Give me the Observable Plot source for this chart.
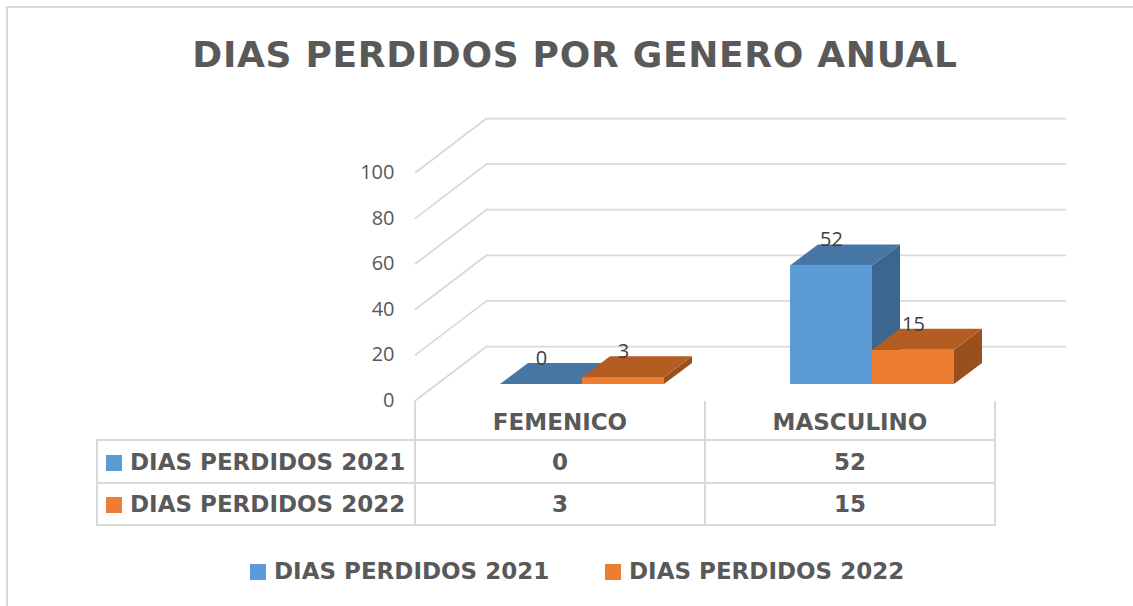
<!DOCTYPE html>
<html>
<head>
<meta charset="utf-8">
<script src="https://cdn.jsdelivr.net/npm/d3@7"></script>
<script src="https://cdn.jsdelivr.net/npm/@observablehq/plot@0.6"></script>
<style>
html, body { margin: 0; padding: 0; background: #fff; width: 1133px; height: 606px; overflow: hidden; position: relative; }
#frame { position: absolute; left: 6px; top: 6px; width: 1200px; height: 700px; border-top: 2px solid #d9d9d9; border-left: 2px solid #d9d9d9; box-sizing: border-box; }
#title { position: absolute; left: 17px; width: 1116px; top: 34px; height: 40px; line-height: 40px; text-align: center;
  font: bold 36px "DejaVu Sans", sans-serif; letter-spacing: 0.7px; color: #595959; white-space: nowrap; }
#chart { position: absolute; left: 0; top: 100px; }
#table { position: absolute; left: 96px; top: 401px; border-collapse: collapse; table-layout: fixed;
  font: bold 23px "DejaVu Sans", sans-serif; color: #595959; }
#table td { border: 2px solid #d9d9d9; padding: 0; text-align: center; white-space: nowrap; }
#table tr.head td { border-top: none; height: 39px; padding-top: 3px; box-sizing: border-box; }
#table tr.head td.blank { border-left: none; }
#table tr.r1 td { height: 41px; }
#table tr.r2 td { height: 40px; }
#table td.lab { text-align: left; padding-left: 8px; }
.sw { display: inline-block; width: 16px; height: 16px; margin-right: 8px; vertical-align: -1px; }
#legend { position: absolute; top: 558px; left: 0; width: 1133px; height: 26px; font: bold 23px "DejaVu Sans", sans-serif; color: #595959; }
#legend .item { position: absolute; top: 0; height: 26px; line-height: 26px; white-space: nowrap; }
</style>
</head>
<body>
<div id="frame"></div>
<div id="title">DIAS PERDIDOS POR GENERO ANUAL</div>
<div id="chart"></div>
<table id="table"></table>
<div id="legend"></div>
<script>
// ---- data ----
const categories = ["FEMENICO", "MASCULINO"];
const seriesNames = ["DIAS PERDIDOS 2021", "DIAS PERDIDOS 2022"];
const values2021 = [0, 52];
const values2022 = [3, 15];
const yTicks = [0, 20, 40, 60, 80, 100];

// ---- style ----
const frontColors = ["#5b9bd5", "#ed7d31"];
const topColors = ["#4676a3", "#b45d22"];
const sideColors = ["#3a6690", "#9a501d"];
const gridColor = "#d9d9d9";
const barInsets = [{l: 64, r: 144}, {l: 146, r: 62}];
const barWidth = 82, depthX = 28, depthY = 21, shiftX = 21, shiftY = -16;
const wallX = 71, wallY = -54;
const bandHalf = 145;
const labelLift = -26;

const seriesValues = [values2021, values2022];
const rows = seriesValues.map(vals => categories.map((c, i) => ({category: c, value: vals[i]})));

const lineShape = {draw(ctx, l) { ctx.moveTo(0, 0); ctx.lineTo(0, -l); }};

const marks = [
  Plot.ruleY(yTicks, {y: d => d, dx: wallX, dy: wallY, stroke: gridColor, strokeWidth: 1.75}),
  Plot.vector(yTicks, {y: d => d, frameAnchor: "left", length: Math.hypot(wallX, wallY),
    rotate: Math.atan2(wallX, -wallY) * 180 / Math.PI, anchor: "start", shape: lineShape,
    stroke: gridColor, strokeWidth: 1.75, fill: "none"}),
  Plot.axisY({ticks: yTicks, tickSize: 0, tickPadding: 21, fontSize: 20, label: null, tickFormat: d => String(d)})
];

rows.forEach((data, k) => {
  const {l, r} = barInsets[k];
  marks.push(
    Plot.barY(data, {x: "category", y: "value", fill: frontColors[k], insetLeft: l, insetRight: r, dx: shiftX, dy: shiftY}),
    Plot.barY(data, {x: "category", y: "value", fill: sideColors[k], insetLeft: l + barWidth, insetRight: r - depthX,
      dx: shiftX, dy: shiftY}),
    Plot.barY(data, {x: "category", y1: "value", y2: "value", fill: topColors[k], insetTop: -depthY, insetLeft: l, insetRight: r,
      dx: shiftX, dy: shiftY})
  );
});
rows.forEach((data, k) => {
  const {l} = barInsets[k];
  marks.push(Plot.text(data, {x: "category", y: "value", text: d => String(d.value),
    dx: l + barWidth / 2 + shiftX - bandHalf, dy: shiftY + labelLift, fill: "#404040", fontSize: 20}));
});

const svg = Plot.plot({
  width: 1133,
  height: 302,
  marginLeft: 415,
  marginRight: 138,
  marginTop: 72,
  marginBottom: 2,
  x: {domain: categories, padding: 0, axis: null},
  y: {domain: [0, 100], nice: false, label: null},
  style: {fontFamily: "'Open Sans', sans-serif", fontSize: "20px", color: "#595959", background: "transparent", overflow: "visible"},
  marks
});

// 3D faces: skew the side and top faces drawn by the bar marks
const sideAngle = Math.atan2(-depthY, depthX) * 180 / Math.PI;
const topAngle = Math.atan2(-depthX, depthY) * 180 / Math.PI;
function rectsWithFill(color) {
  const out = [];
  svg.querySelectorAll("rect").forEach(rect => {
    let el = rect, f = null;
    while (el && el !== svg) {
      const a = el.getAttribute && el.getAttribute("fill");
      if (a) { f = a; break; }
      el = el.parentNode;
    }
    if (f && f.toLowerCase() === color.toLowerCase()) out.push(rect);
  });
  return out;
}
sideColors.forEach(c => rectsWithFill(c).forEach(rect => {
  const x = +rect.getAttribute("x") || 0;
  rect.setAttribute("transform", `translate(${x},0) skewY(${sideAngle}) translate(${-x},0)`);
}));
topColors.forEach(c => rectsWithFill(c).forEach(rect => {
  const yb = (+rect.getAttribute("y") || 0) + (+rect.getAttribute("height") || 0);
  rect.setAttribute("transform", `translate(0,${yb}) skewX(${topAngle}) translate(0,${-yb})`);
}));
document.getElementById("chart").appendChild(svg);

// ---- data table ----
const table = document.getElementById("table");
const colgroup = document.createElement("colgroup");
[318, 290, 290].forEach(w => { const c = document.createElement("col"); c.style.width = w + "px"; colgroup.appendChild(c); });
table.appendChild(colgroup);
const head = document.createElement("tr");
head.className = "head";
const blank = document.createElement("td"); blank.className = "blank"; head.appendChild(blank);
categories.forEach(c => { const td = document.createElement("td"); td.textContent = c; head.appendChild(td); });
table.appendChild(head);
seriesNames.forEach((name, k) => {
  const tr = document.createElement("tr");
  tr.className = "r" + (k + 1);
  const lab = document.createElement("td");
  lab.className = "lab";
  const sw = document.createElement("span"); sw.className = "sw"; sw.style.background = frontColors[k];
  lab.appendChild(sw); lab.appendChild(document.createTextNode(name));
  tr.appendChild(lab);
  seriesValues[k].forEach(v => { const td = document.createElement("td"); td.textContent = String(v); tr.appendChild(td); });
  table.appendChild(tr);
});

// ---- legend ----
const legend = document.getElementById("legend");
const legendLefts = [250, 605];
seriesNames.forEach((name, k) => {
  const it = document.createElement("div");
  it.className = "item";
  it.style.left = legendLefts[k] + "px";
  const sw = document.createElement("span"); sw.className = "sw"; sw.style.background = frontColors[k];
  it.appendChild(sw); it.appendChild(document.createTextNode(name));
  legend.appendChild(it);
});
</script>
</body>
</html>
